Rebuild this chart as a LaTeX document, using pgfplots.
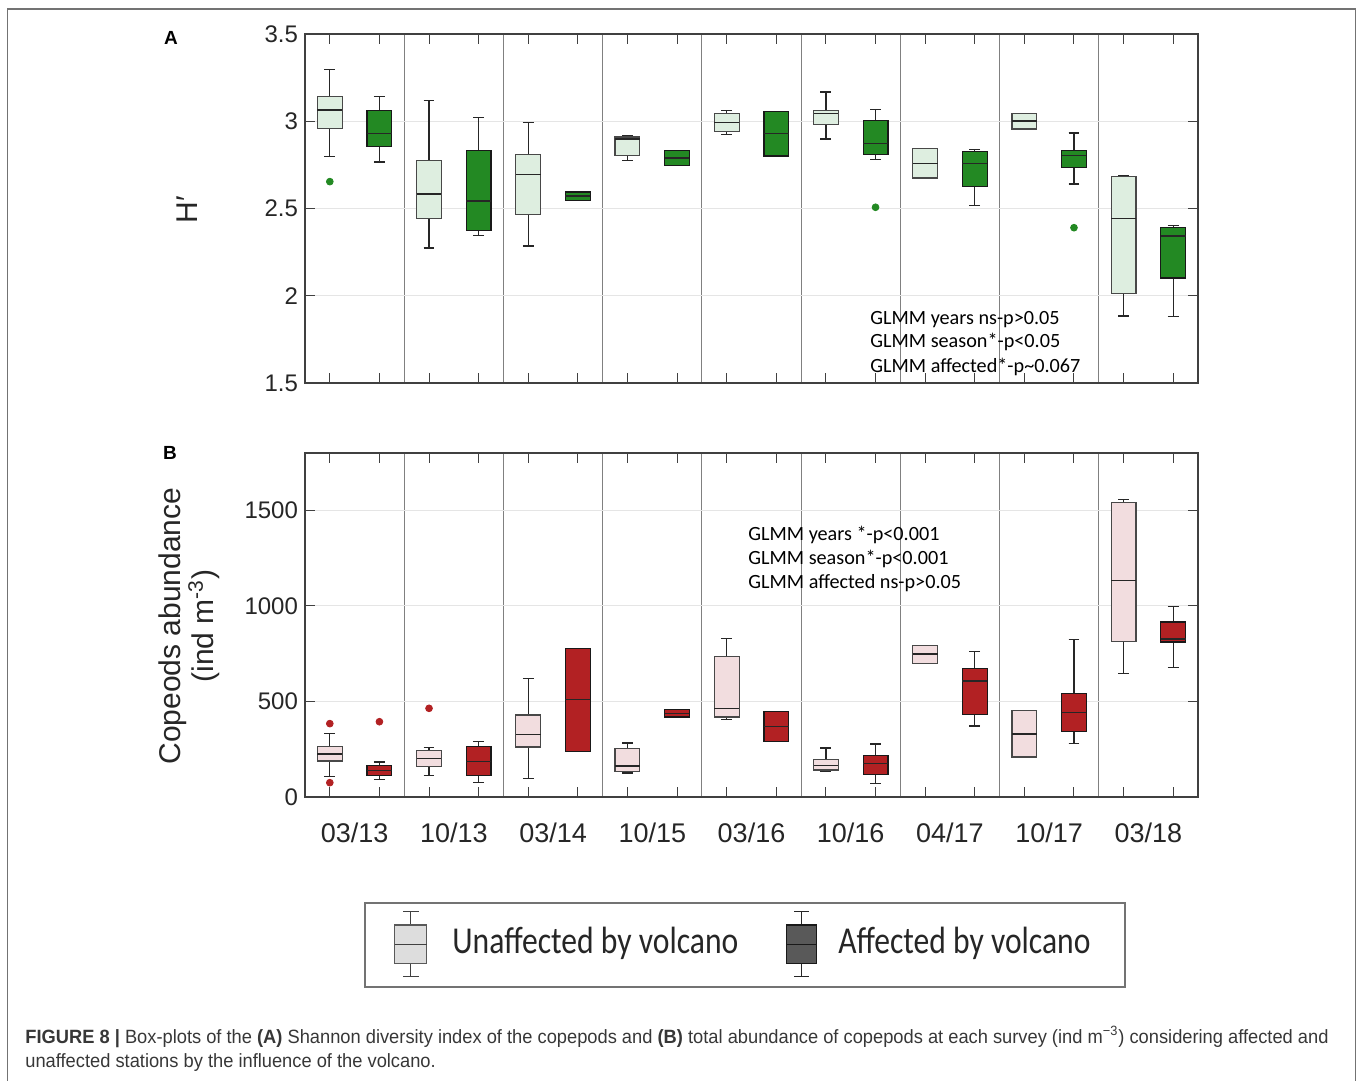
\documentclass[border=0pt]{standalone}
\usepackage{fontspec}
\setmainfont{Liberation Sans}
\newfontfamily\glmmfont{Carlito}
\newfontfamily\legfont{Carlito}
\usepackage{graphicx}
\usepackage{pgfplots}
\pgfplotsset{compat=1.18}
\usepgfplotslibrary{statistics}

\definecolor{dgreen}{RGB}{35,137,35}
\definecolor{lgreen}{RGB}{222,238,224}
\definecolor{dred}{RGB}{178,33,35}
\definecolor{lpink}{RGB}{242,221,223}
\definecolor{edgeL}{RGB}{72,72,72}
\definecolor{edgeD}{RGB}{25,25,25}
\definecolor{axc}{RGB}{64,64,64}
\definecolor{txt}{RGB}{38,38,38}
\definecolor{captxt}{RGB}{55,55,55}

\pgfplotsset{
 panel/.style={
  scale only axis, width=446.5pt, xmin=0.5, xmax=18.5,
  boxplot/draw direction=y,
  boxplot/every median/.style={draw=black!85},
  boxplot/every whisker/.style={draw=black!85},
  xtick={1,...,18}, xticklabels={},
  minor xtick={2.5,4.5,...,16.5}, xminorgrids=true, minor tick length=0pt,
  minor x grid style={black!50, line width=0.6pt},
  ymajorgrids=true, major y grid style={black!10, line width=0.5pt},
  tick align=inside, tick pos=both, major tick length=5pt,
  axis line style={axc, line width=0.6pt},
  every tick/.style={axc, line width=0.5pt},
  tick label style={font=\fontsize{12}{14}\selectfont, text=txt},
  /pgf/number format/assume math mode=true,
  /pgf/number format/1000 sep={},
  clip=false,
 },
 bU/.style={draw=edgeL, line width=0.6pt, fill=lgreen},
 bA/.style={draw=edgeD, line width=0.6pt, fill=dgreen},
 rU/.style={draw=edgeL, line width=0.6pt, fill=lpink},
 rA/.style={draw=edgeD, line width=0.6pt, fill=dred},
}
\newcommand\bx[7]{\addplot[#7,boxplot prepared={draw direction=y,draw position=#1,lower whisker=#2,lower quartile=#3,median=#4,upper quartile=#5,upper whisker=#6,box extend=0.5,whisker extend=0.22}] coordinates {};}

\begin{document}
\begin{tikzpicture}
\path[use as bounding box] (0pt,0pt) rectangle (679pt,-540pt);
\draw[black!55, line width=0.8pt] (3.8pt,-541pt) -- (3.8pt,-4.6pt) -- (677.7pt,-4.6pt) -- (677.7pt,-541pt);

% ---------------- Panel A ----------------
\begin{axis}[panel, at={(152.5pt,-191.5pt)}, anchor=south west, height=174.5pt,
  ymin=1.5, ymax=3.5, ytick={1.5,2,2.5,3,3.5}]
\bx{1}{2.797}{2.957}{3.064}{3.143}{3.298}{bU}
\bx{2}{2.766}{2.856}{2.929}{3.063}{3.143}{bA}
\bx{3}{2.274}{2.444}{2.583}{2.774}{3.118}{bU}
\bx{4}{2.346}{2.375}{2.543}{2.833}{3.023}{bA}
\bx{5}{2.285}{2.465}{2.696}{2.810}{2.992}{bU}
\bx{6}{2.547}{2.547}{2.572}{2.595}{2.595}{bA}
\bx{7}{2.774}{2.805}{2.898}{2.910}{2.915}{bU}
\bx{8}{2.745}{2.745}{2.789}{2.833}{2.833}{bA}
\bx{9}{2.923}{2.942}{2.992}{3.043}{3.061}{bU}
\bx{10}{2.801}{2.801}{2.929}{3.055}{3.055}{bA}
\bx{11}{2.898}{2.982}{3.045}{3.063}{3.168}{bU}
\bx{12}{2.782}{2.810}{2.874}{3.005}{3.068}{bA}
\bx{13}{2.675}{2.675}{2.759}{2.845}{2.845}{bU}
\bx{14}{2.518}{2.627}{2.757}{2.826}{2.839}{bA}
\bx{15}{2.956}{2.956}{3.001}{3.043}{3.043}{bU}
\bx{16}{2.640}{2.736}{2.805}{2.831}{2.933}{bA}
\bx{17}{1.884}{2.014}{2.444}{2.684}{2.686}{bU}
\bx{18}{1.880}{2.102}{2.342}{2.392}{2.402}{bA}
\addplot[only marks, mark=*, mark size=1.7pt, mark options={fill=dgreen, draw=dgreen}]
  coordinates {(1,2.654) (12,2.507) (16,2.390)};
\end{axis}

% ---------------- Panel B ----------------
\begin{axis}[panel, at={(152.5pt,-398.5pt)}, anchor=south west, height=172pt,
  ymin=0, ymax=1800, ytick={0,500,1000,1500},
  extra x ticks={1.5,3.5,5.5,7.5,9.5,11.5,13.5,15.5,17.5},
  extra x tick labels={03/13,10/13,03/14,10/15,03/16,10/16,04/17,10/17,03/18},
  extra x tick style={major tick length=0pt, grid=none,
    xticklabel style={font=\fontsize{13.5}{15}\selectfont, text=txt, yshift=-9.5pt}}]
\bx{1}{106}{188}{225}{263}{331}{rU}
\bx{2}{91}{112}{140}{164}{183}{rA}
\bx{3}{112}{160}{202}{242}{260}{rU}
\bx{4}{77}{112}{185}{265}{291}{rA}
\bx{5}{96}{262}{328}{429}{619}{rU}
\bx{6}{237}{237}{509}{778}{778}{rA}
\bx{7}{126}{134}{162}{253}{283}{rU}
\bx{8}{419}{419}{438}{459}{459}{rA}
\bx{9}{405}{419}{464}{736}{828}{rU}
\bx{10}{291}{291}{370}{446}{446}{rA}
\bx{11}{136}{141}{166}{197}{256}{rU}
\bx{12}{70}{117}{174}{218}{277}{rA}
\bx{13}{700}{700}{748}{792}{792}{rU}
\bx{14}{372}{431}{607}{671}{762}{rA}
\bx{15}{209}{209}{330}{454}{454}{rU}
\bx{16}{281}{342}{443}{543}{823}{rA}
\bx{17}{647}{815}{1134}{1542}{1556}{rU}
\bx{18}{677}{811}{827}{916}{998}{rA}
\addplot[only marks, mark=*, mark size=1.7pt, mark options={fill=dred, draw=dred}]
  coordinates {(1,384) (1,75) (2,394) (3,464)};
\end{axis}

% panel letters and y labels
\node[font=\bfseries\fontsize{9.5}{10}\selectfont] at (85.5pt,-19pt) {A};
\node[font=\bfseries\fontsize{9.5}{10}\selectfont] at (85pt,-226.5pt) {B};
\node[rotate=90, font=\fontsize{15}{17}\selectfont, text=txt] at (93.5pt,-105pt) {H′};
\node[rotate=90, align=center, font=\fontsize{15}{16.5}\selectfont, text=txt] at (94.5pt,-313pt) {Copeods abundance\\(ind m\textsuperscript{-3})};

% GLMM annotations
\begin{scope}[every node/.style={anchor=base west, inner sep=0pt, font=\glmmfont\fontsize{10.1}{12}\selectfont, text=black}]
\node at (435pt,-162pt) {GLMM years ns-p>0.05};
\node at (435pt,-174pt) {GLMM season*-p<0.05};
\node at (435pt,-186pt) {GLMM affected*-p\textasciitilde0.067};
\node at (374pt,-270pt) {GLMM years *-p<0.001};
\node at (374pt,-282pt) {GLMM season*-p<0.001};
\node at (374pt,-294pt) {GLMM affected ns-p>0.05};
\end{scope}

% legend
\draw[black!55, line width=0.8pt] (182.5pt,-451.5pt) rectangle (562.5pt,-493.5pt);
\begin{scope}[line width=0.6pt]
\draw[black!75] (205.4pt,-462.5pt) -- (205.4pt,-455.9pt) (201.7pt,-455.9pt) -- (209.7pt,-455.9pt);
\draw[black!75] (205.4pt,-481.9pt) -- (205.4pt,-488.3pt) (201.7pt,-488.3pt) -- (209.7pt,-488.3pt);
\draw[black!65, fill={rgb,255:red,221;green,221;blue,221}] (197.4pt,-462.5pt) rectangle (213.4pt,-481.9pt);
\draw[black!75] (197.4pt,-472.2pt) -- (213.4pt,-472.2pt);
\draw[black!85] (400.8pt,-462.5pt) -- (400.8pt,-455.9pt) (397.1pt,-455.9pt) -- (404.5pt,-455.9pt);
\draw[black!85] (400.8pt,-481.9pt) -- (400.8pt,-488.3pt) (397.1pt,-488.3pt) -- (404.5pt,-488.3pt);
\draw[black!90, fill={rgb,255:red,89;green,89;blue,89}] (393.4pt,-462.5pt) rectangle (408.2pt,-481.9pt);
\draw[black!90] (393.4pt,-472.2pt) -- (408.2pt,-472.2pt);
\end{scope}
\node[anchor=base west, inner sep=0pt, text=txt] at (226pt,-476.5pt) {\resizebox{143pt}{\height}{\legfont\fontsize{19}{21}\selectfont Unaffected by volcano}};
\node[anchor=base west, inner sep=0pt, text=txt] at (419pt,-476.5pt) {\resizebox{126pt}{\height}{\legfont\fontsize{19}{21}\selectfont Affected by volcano}};

% caption
\node[anchor=base west, inner sep=0pt, text=captxt] at (12.5pt,-521.5pt) {\resizebox{651.5pt}{\height}{\fontsize{9.6}{12}\selectfont\begin{tabular}[t]{@{}l@{}}\textbf{FIGURE 8 |} Box-plots of the \textbf{(A)} Shannon diversity index of the copepods and \textbf{(B)} total abundance of copepods at each survey (ind m\textsuperscript{−3}) considering affected and\\
unaffected stations by the influence of the volcano.\end{tabular}}};
\end{tikzpicture}
\end{document}
